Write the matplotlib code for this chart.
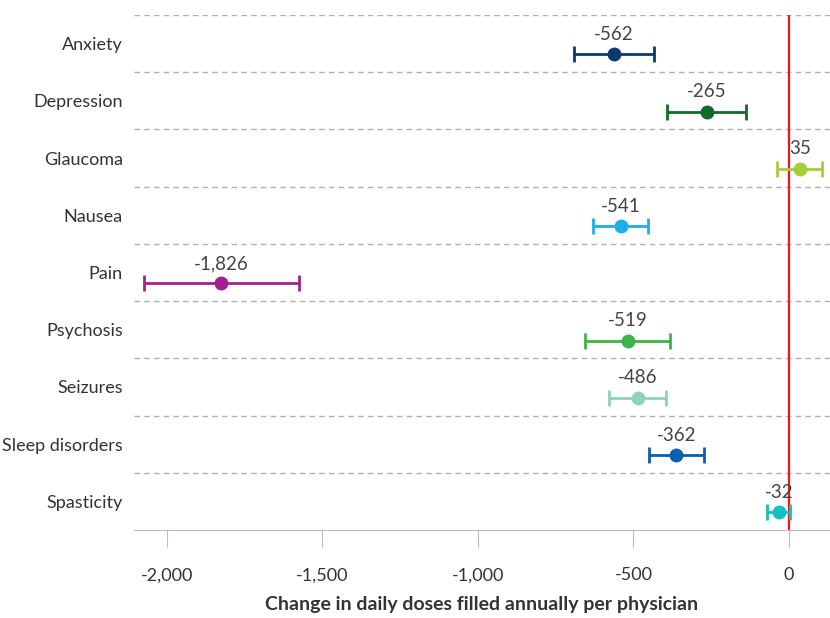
import matplotlib
matplotlib.use("Agg")
import matplotlib.pyplot as plt
from matplotlib.ticker import FuncFormatter

plt.rcParams['font.family'] = ['Lato', 'DejaVu Sans']

# data
conditions = ['Anxiety', 'Depression', 'Glaucoma', 'Nausea', 'Pain',
              'Psychosis', 'Seizures', 'Sleep disorders', 'Spasticity']
estimates = [-562, -265, 35, -541, -1826, -519, -486, -362, -32]
ci_low = [-691, -392, -39, -630, -2074, -656, -579, -450, -71]
ci_high = [-434, -138, 106, -453, -1576, -383, -395, -273, 3]
colors = ['#0b3a6e', '#0f6b2e', '#a6ce39', '#1ab0ea', '#a0218f',
          '#3bb54a', '#8dd3c0', '#0a5fb0', '#13bfc0']

fig = plt.figure(figsize=(8.3, 6.18), dpi=100)
ax = fig.add_axes([134 / 830, 1 - 530 / 618, 1 - 134 / 830, 515 / 618])

offset = 0.19
for i, (est, lo, hi, c) in enumerate(zip(estimates, ci_low, ci_high, colors)):
    y = i + offset
    ax.errorbar(est, y, xerr=[[est - lo], [hi - est]], fmt='o', color=c,
                ms=9, elinewidth=2, capsize=6, capthick=2, zorder=3)
    ax.text(est, y - 0.2, f"{est:,}", ha='center', va='bottom',
            fontsize=13.5, color='#444444')

# dashed row separators
for i in range(len(conditions)):
    ax.axhline(i - 0.5, color='#b0b0b0', lw=1, ls=(0, (4, 3)), zorder=1)

ax.axvline(0, color='#e8161d', lw=1.6, zorder=2)

ax.set_xlim(-2106, 132)
ax.set_ylim(len(conditions) - 0.5, -0.5)
ax.set_yticks(range(len(conditions)))
ax.set_yticklabels(conditions, fontsize=13, color='#333333')
ax.tick_params(axis='y', length=0, pad=8)

ax.set_xticks([-2000, -1500, -1000, -500, 0])
ax.xaxis.set_major_formatter(FuncFormatter(lambda v, p: f"{int(v):,}"))
ax.tick_params(axis='x', length=12, color='#bbbbbb', labelsize=13,
               labelcolor='#333333', pad=15)
ax.set_xlabel('Change in daily doses filled annually per physician',
              fontsize=14, fontweight='bold', color='#333333', labelpad=9)

for s in ['top', 'right', 'left']:
    ax.spines[s].set_visible(False)
ax.spines['bottom'].set_color('#bbbbbb')

fig.savefig('out.png', dpi=100)
